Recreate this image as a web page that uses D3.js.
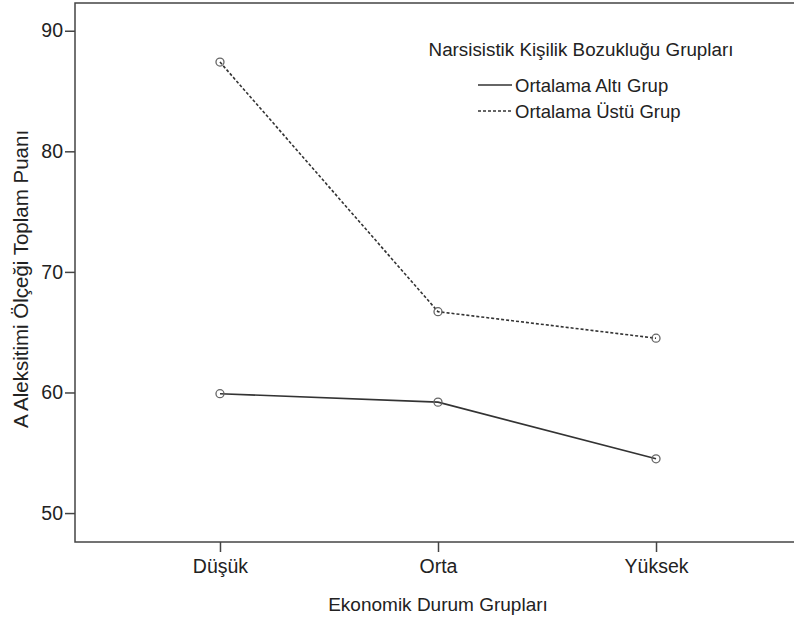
<!DOCTYPE html>
<html>
<head>
<meta charset="utf-8">
<script src="https://cdn.jsdelivr.net/npm/d3@7"></script>
<style>
  body { margin: 0; background: #fff; }
  text { font-family: "Liberation Sans", Arial, sans-serif; fill: #222; }
</style>
</head>
<body>
<div id="chart"></div>
<script>
// data
const categories = ["Düşük", "Orta", "Yüksek"];
const seriesNames = ["Ortalama Altı Grup", "Ortalama Üstü Grup"];
const altiValues = [59.9, 59.2, 54.5];
const ustuValues = [87.4, 66.7, 64.5];
const yTicks = [50, 60, 70, 80, 90];

const width = 794, height = 617;
const plot = { left: 75, top: 3, right: 801, bottom: 542 };

const svg = d3.select("#chart").append("svg")
    .attr("width", width)
    .attr("height", height);

// scales
const x = d3.scalePoint()
    .domain(categories)
    .range([plot.left, plot.right])
    .padding(0.665);

const y = d3.scaleLinear()
    .domain([47.6, 92.3])
    .range([plot.bottom, plot.top]);

// frame
svg.append("rect")
    .attr("x", plot.left)
    .attr("y", plot.top)
    .attr("width", plot.right - plot.left)
    .attr("height", plot.bottom - plot.top)
    .attr("fill", "none")
    .attr("stroke", "#444")
    .attr("stroke-width", 1.5);

// axes
const yAxis = svg.append("g")
    .attr("transform", "translate(" + plot.left + ",0)")
    .call(d3.axisLeft(y).tickValues(yTicks).tickSize(10).tickPadding(2));

const xAxis = svg.append("g")
    .attr("transform", "translate(0," + plot.bottom + ")")
    .call(d3.axisBottom(x).tickSize(10).tickPadding(7));

[yAxis, xAxis].forEach(g => {
    g.select(".domain").remove();
    g.selectAll(".tick line").attr("stroke", "#444").attr("stroke-width", 1.5);
    g.selectAll(".tick text")
        .style("font-family", "'Liberation Sans', Arial, sans-serif")
        .style("font-size", "19.5px")
        .attr("fill", "#222");
});

// axis titles
svg.append("text")
    .attr("transform", "translate(28,279) rotate(-90)")
    .attr("text-anchor", "middle")
    .style("font-size", "20.5px")
    .text("A Aleksitimi Ölçeği Toplam Puanı");

svg.append("text")
    .attr("x", 438)
    .attr("y", 611)
    .attr("text-anchor", "middle")
    .style("font-size", "19px")
    .text("Ekonomik Durum Grupları");

// lines
const line = d3.line()
    .x((d, i) => x(categories[i]))
    .y(d => y(d));

const series = [
    { name: seriesNames[0], values: altiValues, dash: null },
    { name: seriesNames[1], values: ustuValues, dash: "3,2" }
];

series.forEach(s => {
    svg.append("path")
        .datum(s.values)
        .attr("d", line)
        .attr("fill", "none")
        .attr("stroke", "#333")
        .attr("stroke-width", 1.6)
        .attr("stroke-dasharray", s.dash);

    svg.selectAll(null)
        .data(s.values)
        .enter().append("circle")
        .attr("cx", (d, i) => x(categories[i]))
        .attr("cy", d => y(d))
        .attr("r", 4)
        .attr("fill", "none")
        .attr("stroke", "#666")
        .attr("stroke-width", 1.3);
});

// legend
const legend = svg.append("g");

legend.append("text")
    .attr("x", 581)
    .attr("y", 56)
    .attr("text-anchor", "middle")
    .style("font-size", "18.8px")
    .text("Narsisistik Kişilik Bozukluğu Grupları");

series.forEach((s, i) => {
    let ly = 85 + i * 26;
    legend.append("line")
        .attr("x1", 478).attr("x2", 512)
        .attr("y1", ly).attr("y2", ly)
        .attr("stroke", "#333")
        .attr("stroke-width", 1.6)
        .attr("stroke-dasharray", s.dash);
    legend.append("text")
        .attr("x", 515)
        .attr("y", ly + 6.5)
        .style("font-size", "18.5px")
        .text(s.name);
});
</script>
</body>
</html>
